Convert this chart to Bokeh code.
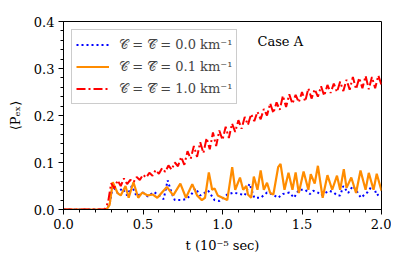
from bokeh.plotting import figure
from bokeh.models import (Legend, LegendItem, SingleIntervalTicker,
                          PrintfTickFormatter, Label, Range1d)
from bokeh.embed import file_html
from bokeh.resources import INLINE

# ---- data ----
t_blue = [0.0, 0.27, 0.29, 0.31, 0.34, 0.37, 0.40, 0.43, 0.46, 0.50, 0.53, 0.57, 0.60, 0.63,
          0.655, 0.68, 0.70, 0.74, 0.77, 0.80, 0.83, 0.86, 0.91, 0.95, 0.98, 1.03, 1.07, 1.11,
          1.14, 1.17, 1.20, 1.24, 1.28, 1.31, 1.35, 1.38, 1.42, 1.45, 1.48, 1.52, 1.55, 1.57,
          1.60, 1.62, 1.67, 1.70, 1.72, 1.74, 1.76, 1.79, 1.82, 1.85, 1.87, 1.91, 1.94, 1.96,
          1.97, 2.0]
v_blue = [0.0, 0.0, 0.01, 0.05, 0.035, 0.045, 0.03, 0.05, 0.028, 0.036, 0.028, 0.037, 0.03, 0.022,
          0.062, 0.035, 0.02, 0.02, 0.022, 0.03, 0.045, 0.03, 0.04, 0.02, 0.018, 0.032, 0.036, 0.033,
          0.03, 0.055, 0.025, 0.025, 0.036, 0.033, 0.025, 0.033, 0.036, 0.025, 0.042, 0.042, 0.033, 0.04,
          0.036, 0.03, 0.04, 0.036, 0.03, 0.03, 0.05, 0.035, 0.05, 0.036, 0.025, 0.036, 0.05, 0.04,
          0.03, 0.036]

t_orange = [0.0, 0.27, 0.29, 0.31, 0.34, 0.36, 0.39, 0.41, 0.44, 0.47, 0.495, 0.53, 0.56, 0.59,
            0.65, 0.69, 0.735, 0.77, 0.81, 0.84, 0.87, 0.89, 0.914, 0.935, 0.95, 0.97, 1.0, 1.03,
            1.061, 1.08, 1.11, 1.13, 1.15, 1.16, 1.18, 1.197, 1.22, 1.24, 1.26, 1.28, 1.30, 1.32,
            1.35, 1.365, 1.39, 1.415, 1.44, 1.46, 1.48, 1.51, 1.54, 1.555, 1.58, 1.60, 1.63, 1.66,
            1.69, 1.72, 1.74, 1.763, 1.78, 1.81, 1.84, 1.868, 1.90, 1.92, 1.95, 1.97, 2.0]
v_orange = [0.0, 0.0, 0.01, 0.058, 0.035, 0.03, 0.05, 0.025, 0.058, 0.025, 0.036, 0.03, 0.032, 0.025,
            0.048, 0.03, 0.055, 0.025, 0.054, 0.03, 0.02, 0.025, 0.079, 0.042, 0.045, 0.03, 0.025, 0.02,
            0.09, 0.042, 0.068, 0.042, 0.05, 0.032, 0.025, 0.07, 0.042, 0.083, 0.042, 0.057, 0.035, 0.032,
            0.09, 0.097, 0.042, 0.078, 0.042, 0.079, 0.035, 0.081, 0.042, 0.075, 0.055, 0.093, 0.025, 0.073,
            0.042, 0.072, 0.042, 0.086, 0.046, 0.068, 0.035, 0.083, 0.042, 0.078, 0.042, 0.076, 0.04]

t_red = [0.0, 0.26, 0.28, 0.30, 0.32, 0.34, 0.36, 0.38, 0.40, 0.42, 0.44, 0.46, 0.48, 0.50, 0.52,
         0.54, 0.56, 0.58, 0.60, 0.62, 0.64, 0.66, 0.68, 0.70, 0.72, 0.74, 0.76, 0.78, 0.80, 0.82,
         0.84, 0.86, 0.88, 0.90, 0.92, 0.94, 0.96, 0.98, 1.00, 1.02, 1.04, 1.06, 1.08, 1.10, 1.12,
         1.14, 1.16, 1.18, 1.20, 1.22, 1.24, 1.26, 1.28, 1.30, 1.32, 1.34, 1.36, 1.38, 1.40, 1.42,
         1.44, 1.46, 1.48, 1.50, 1.52, 1.54, 1.56, 1.58, 1.60, 1.62, 1.64, 1.66, 1.68, 1.70, 1.72,
         1.74, 1.76, 1.78, 1.80, 1.82, 1.84, 1.86, 1.88, 1.90, 1.92, 1.94, 1.96, 1.98, 2.00]
v_red = [0.0, 0.0, 0.015, 0.056, 0.045, 0.062, 0.05, 0.066, 0.054, 0.063, 0.058, 0.069, 0.063, 0.074, 0.068,
         0.078, 0.072, 0.084, 0.076, 0.088, 0.08, 0.094, 0.085, 0.1, 0.092, 0.112, 0.095, 0.124, 0.108, 0.135,
         0.112, 0.143, 0.12, 0.152, 0.128, 0.164, 0.135, 0.168, 0.148, 0.176, 0.152, 0.183, 0.165, 0.19, 0.172,
         0.197, 0.18, 0.203, 0.188, 0.208, 0.192, 0.214, 0.2, 0.226, 0.205, 0.228, 0.212, 0.242, 0.218, 0.245,
         0.225, 0.244, 0.228, 0.25, 0.23, 0.258, 0.236, 0.256, 0.24, 0.262, 0.242, 0.265, 0.248, 0.268, 0.25,
         0.272, 0.252, 0.276, 0.255, 0.282, 0.256, 0.28, 0.258, 0.284, 0.256, 0.282, 0.258, 0.285, 0.265]

labels = ["\U0001D49E = \U0001D49E\u0305 = 0.0 km\u207B\u00B9",
          "\U0001D49E = \U0001D49E\u0305 = 0.1 km\u207B\u00B9",
          "\U0001D49E = \U0001D49E\u0305 = 1.0 km\u207B\u00B9"]
case_text = "Case A"
x_label = "t (10\u207B\u2075 sec)"
y_label = "\u27E8P\u2091\u2093\u27E9"

FONT = "DejaVu Serif"

p = figure(width=391, height=255, output_backend="svg", toolbar_location=None,
           x_range=Range1d(0, 2), y_range=Range1d(0, 0.4),
           min_border_left=63, min_border_right=10, min_border_top=21, min_border_bottom=44)
p.grid.visible = False
p.outline_line_color = "black"
p.outline_line_width = 1
p.background_fill_color = "white"
p.border_fill_color = "white"

p.xaxis.ticker = SingleIntervalTicker(interval=0.5, num_minor_ticks=5)
p.yaxis.ticker = SingleIntervalTicker(interval=0.1, num_minor_ticks=5)
for ax in (p.xaxis[0], p.yaxis[0]):
    ax.formatter = PrintfTickFormatter(format="%.1f")
    ax.major_tick_in = 0
    ax.major_tick_out = 5
    ax.minor_tick_in = 0
    ax.minor_tick_out = 3
    ax.axis_line_color = "black"
    ax.major_tick_line_color = "black"
    ax.minor_tick_line_color = "black"
    ax.major_label_text_font = FONT
    ax.major_label_text_font_size = "13px"
    ax.major_label_text_color = "black"
    ax.axis_label_text_font = FONT
    ax.axis_label_text_font_size = "13px"
    ax.axis_label_text_font_style = "normal"
    ax.axis_label_text_color = "black"
p.xaxis.axis_label = x_label
p.yaxis.axis_label = y_label
p.xaxis.major_label_standoff = 4
p.yaxis.major_label_standoff = 4
p.xaxis.axis_label_standoff = 6
p.yaxis.axis_label_standoff = 8

r_blue = p.line(t_blue, v_blue, line_color="#0000ff", line_width=2, line_dash="2 3")
r_orange = p.line(t_orange, v_orange, line_color="#ff8c00", line_width=2.2)
r_red = p.line(t_red, v_red, line_color="#ff0000", line_width=2, line_dash="9 3 2 3")

legend = Legend(items=[LegendItem(label=labels[0], renderers=[r_blue]),
                       LegendItem(label=labels[1], renderers=[r_orange]),
                       LegendItem(label=labels[2], renderers=[r_red])],
                location="top_left", margin=8, padding=4, spacing=1,
                glyph_width=33, glyph_height=21, label_height=21, label_standoff=10,
                label_text_font=FONT, label_text_font_size="13px",
                border_line_color="#cccccc", border_line_alpha=1.0,
                background_fill_alpha=0.8)
p.add_layout(legend, "center")

p.add_layout(Label(x=1.22, y=0.358, text=case_text, text_font=FONT, text_font_size="13px",
                   text_baseline="middle", text_color="black"))

open("out.html", "w").write(file_html(p, INLINE))
